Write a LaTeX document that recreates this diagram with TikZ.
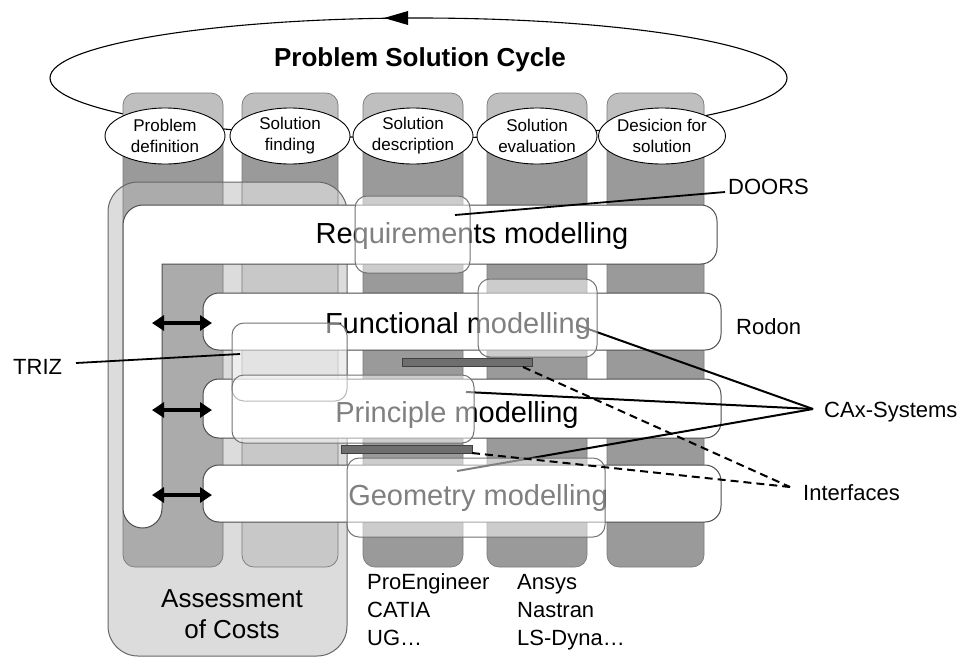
\documentclass[tikz,border=0pt]{standalone}
\usepackage{fontspec}
\setmainfont{Liberation Sans}
\usetikzlibrary{arrows.meta,shapes.geometric}
\definecolor{coldark}{HTML}{9A9A9A}
\definecolor{collight}{HTML}{BFBFBF}
\definecolor{colborder}{HTML}{7A7A7A}
\definecolor{boxfill}{HTML}{DCDCDC}
\definecolor{inA}{HTML}{ABABAB}
\definecolor{inB}{HTML}{C8C8C8}
\definecolor{barfill}{HTML}{6E6E6E}
\begin{document}
\begin{tikzpicture}[x=1pt,y=-1pt,
  colshape/.style={draw=colborder, line width=0.7pt, rounded corners=12pt},
  rowbox/.style={fill=white, draw=black!70, line width=1pt, rounded corners=16pt},
  overbox/.style={fill=white, fill opacity=0.5, draw=black!55, draw opacity=1, line width=1pt, rounded corners=12pt},
  phase/.style={ellipse, draw, fill=white, line width=0.9pt, minimum width=120pt, minimum height=56pt, inner sep=0pt, align=center, font=\fontsize{17}{21}\selectfont},
  rowtext/.style={font=\fontsize{29}{31}\selectfont, inner sep=0pt, anchor=base},
  tag/.style={font=\fontsize{22}{24}\selectfont, inner sep=0pt, anchor=base west},
  conn/.style={line width=2pt},
  dconn/.style={line width=2pt, dash pattern=on 8pt off 5pt},
  twoway/.style={line width=3.6pt, {Triangle[length=12pt,width=15pt]}-{Triangle[length=12pt,width=15pt]}},
  bar/.style={fill=barfill, draw=black!75, line width=0.8pt}
]
\useasboundingbox (0,0) rectangle (965,657);

% problem solution cycle (behind the columns)
\draw[line width=1.1pt] (418.5,78) ellipse [x radius=368.5, y radius=60];
\fill (384,18) -- (408,11) -- (408,25) -- cycle;

% columns
\foreach \a/\b in {123/223, 242/338, 363/463, 487/587, 607/704} {
  \fill[coldark, rounded corners=12pt] (\a,93) rectangle (\b,567);
  \begin{scope}
    \clip (\a-2,80) rectangle (\b+2,140);
    \fill[collight, rounded corners=12pt] (\a,93) rectangle (\b,567);
  \end{scope}
  \draw[colshape] (\a,93) rectangle (\b,567);
}

% assessment of costs box
\fill[boxfill, rounded corners=30pt] (108,182) rectangle (347,656);
\begin{scope}
  \clip[rounded corners=30pt] (108,182) rectangle (347,656);
  \draw[colshape, fill=inA] (123,93) rectangle (223,567);
  \draw[colshape, fill=inB] (242,93) rectangle (338,567);
\end{scope}
\draw[black!60, line width=1pt, rounded corners=30pt] (108,182) rectangle (347,656);
\node[font=\fontsize{26}{31}\selectfont, align=center, anchor=base] (cost) at (232,638) {Assessment\\of Costs};

\node[font=\bfseries\fontsize{26}{28}\selectfont, anchor=base, inner sep=0pt] (title) at (420,66) {Problem Solution Cycle};

\node[phase] (p1) at (165,136) {Problem\\definition};
\node[phase] (p2) at (290,136) {Solution\\finding};
\node[phase] (p3) at (413,136) {Solution\\description};
\node[phase] (p4) at (537,136) {Solution\\evaluation};
\node[phase] (p5) at (662,136) {Desicion for\\solution};

% white L band (requirements)
\draw[fill=white, draw=black!70, line width=1pt]
  (143,205) -- (701,205) .. controls (709.8,205) and (717,212.2) .. (717,221)
  -- (717,248) .. controls (717,256.8) and (709.8,264) .. (701,264)
  -- (162,264) -- (162,508.5)
  .. controls (162,519.3) and (153.3,528) .. (142.5,528)
  .. controls (131.7,528) and (123,519.3) .. (123,508.5)
  -- (123,225) .. controls (123,214) and (132,205) .. (143,205) -- cycle;

% rows
\draw[rowbox] (203,293) rectangle (721,350);
\draw[rowbox] (203,379) rectangle (721,438);
\draw[rowbox] (203,465) rectangle (721,522);

\node[rowtext] (req) at (472,243) {Requirements modelling};
\node[rowtext] (fun) at (458,333) {Functional modelling};
\node[rowtext] (pri) at (457,422) {Principle modelling};
\node[rowtext] (geo) at (478,505) {Geometry modelling};

% interface bars
\draw[bar] (402,358) rectangle (532,366);
\draw[bar] (341,445) rectangle (472,453);

% connector points
\coordinate (caxpt) at (813,409);
\coordinate (ifpt) at (790,487);
\coordinate (funpt) at (577,325);
\coordinate (pript) at (466,392);
\coordinate (geopt) at (457,471);
\coordinate (bar1pt) at (523,367);
\coordinate (bar2pt) at (472,453);
\coordinate (doorspt) at (455,215);
\coordinate (doorsend) at (725,192);
\coordinate (trizpt) at (240,354);
\coordinate (trizend) at (76,363);

% CAx lines (below overlays)
\draw[conn] (funpt) -- (caxpt);
\draw[conn] (pript) -- (caxpt);
\draw[conn] (geopt) -- (caxpt);

% overlays
\draw[overbox] (355,196) rectangle (470,273);
\draw[overbox] (478,279) rectangle (597,357);
\draw[overbox] (232,323) rectangle (347,401);
\draw[overbox] (232,375) rectangle (474,443);
\draw[overbox] (347,458) rectangle (605,537);

% dashed interface lines
\draw[dconn] (bar1pt) -- (ifpt);
\draw[dconn] (bar2pt) -- (ifpt);

% DOORS and TRIZ lines
\draw[line width=1.8pt] (doorspt) -- (doorsend);
\draw[line width=1.8pt] (trizend) -- (trizpt);

% double arrows
\coordinate (a1l) at (152,323); \coordinate (a1r) at (212,323);
\coordinate (a2l) at (152,410); \coordinate (a2r) at (212,410);
\coordinate (a3l) at (152,495); \coordinate (a3r) at (212,495);
\draw[twoway] (a1l) -- (a1r);
\draw[twoway] (a2l) -- (a2r);
\draw[twoway] (a3l) -- (a3r);

% labels
\node[tag] (doors) at (728,194) {DOORS};
\node[tag] (rodon) at (736,334) {Rodon};
\node[tag] (cax) at (824,417) {CAx-Systems};
\node[tag] (intf) at (803,500) {Interfaces};
\node[tag] (triz) at (13,374) {TRIZ};

\node[tag] (pe) at (367,589) {ProEngineer};
\node[tag] (catia) at (367,617) {CATIA};
\node[tag] (ug) at (367,645) {UG…};
\node[tag] (ansys) at (517,589) {Ansys};
\node[tag] (nastran) at (517,617) {Nastran};
\node[tag] (lsdyna) at (517,645) {LS-Dyna…};
\end{tikzpicture}
\end{document}
